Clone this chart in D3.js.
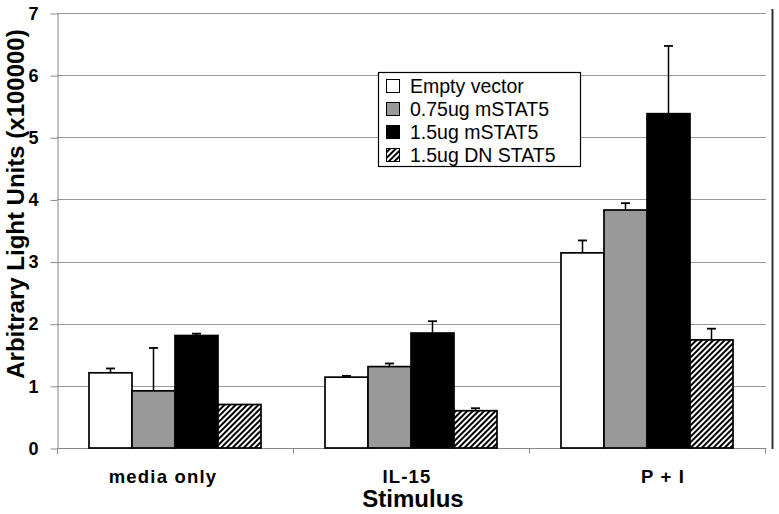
<!DOCTYPE html>
<html>
<head>
<meta charset="utf-8">
<script src="https://cdn.jsdelivr.net/npm/d3@7"></script>
<style>
  html, body { margin: 0; padding: 0; background: #fff; }
  svg { display: block; font-family: "Liberation Sans", Arial, sans-serif; }
</style>
</head>
<body>
<svg id="chart" width="779" height="514"></svg>
<script>
// ---- data ----
const categories = ["media only", "IL-15", "P + I"];
const seriesNames = ["Empty vector", "0.75ug mSTAT5", "1.5ug mSTAT5", "1.5ug DN STAT5"];
const emptyVector = [1.21, 1.14, 3.14];
const mSTAT5_075 = [0.92, 1.31, 3.83];
const mSTAT5_15 = [1.81, 1.85, 5.38];
const dnSTAT5_15 = [0.70, 0.60, 1.74];
const errEmpty = [0.07, 0.02, 0.20];
const errM075 = [0.69, 0.05, 0.11];
const errM15 = [0.03, 0.19, 1.09];
const errDN = [0.00, 0.04, 0.18];
const yTicks = [0, 1, 2, 3, 4, 5, 6, 7];

const seriesValues = [emptyVector, mSTAT5_075, mSTAT5_15, dnSTAT5_15];
const seriesErrors = [errEmpty, errM075, errM15, errDN];
const fills = ["#ffffff", "#999999", "#000000", "url(#hatch)"];

(function () {
const svg = d3.select("#chart");

// hatch pattern
const defs = svg.append("defs");
const pat = defs.append("pattern")
  .attr("id", "hatch")
  .attr("patternUnits", "userSpaceOnUse")
  .attr("width", 4).attr("height", 4)
  .attr("patternTransform", "rotate(45)");
pat.append("rect").attr("width", 4).attr("height", 4).attr("fill", "#fff");
pat.append("line").attr("x1", 1).attr("y1", 0).attr("x2", 1).attr("y2", 4)
  .attr("stroke", "#000").attr("stroke-width", 2);

// scales
const pLeft = 57, pRight = 765, pTop = 13, pBottom = 448;
const y = d3.scaleLinear().domain([0, 7]).range([pBottom, pTop]);
const x0 = d3.scaleBand().domain(categories).range([pLeft, pRight]).padding(0);
const groupW = 172;
const x1 = d3.scaleBand().domain(seriesNames).range([0, groupW]).padding(0);
const groupOffset = (x0.bandwidth() - groupW) / 2;

// gridlines
svg.append("g").selectAll("line").data(yTicks.filter(d => d > 0)).join("line")
  .attr("x1", pLeft).attr("x2", pRight + 1)
  .attr("y1", d => Math.round(y(d)) + 0.5).attr("y2", d => Math.round(y(d)) + 0.5)
  .attr("stroke", "#999").attr("stroke-width", 1);

// y axis
const yAxis = svg.append("g")
  .attr("transform", `translate(${pLeft + 0.5},0.5)`)
  .call(d3.axisLeft(y).tickValues(yTicks).tickFormat(d3.format("d"))
    .tickSize(7).tickPadding(12).tickSizeOuter(0));
yAxis.select(".domain").attr("stroke", "#888");
yAxis.selectAll(".tick line").attr("stroke", "#888");
yAxis.selectAll(".tick text")
  .attr("font-size", 18).attr("font-weight", "bold").attr("fill", "#000")
  .attr("font-family", "Liberation Sans, Arial, sans-serif");
// y axis extension below baseline
svg.append("line").attr("x1", pLeft + 0.5).attr("x2", pLeft + 0.5)
  .attr("y1", pBottom).attr("y2", pBottom + 6).attr("stroke", "#888");

// x axis baseline + ticks
const xAxis = svg.append("g")
  .attr("transform", `translate(0.5,${Math.round(y(0)) + 0.5})`);
xAxis.append("line").attr("x1", pLeft).attr("x2", pRight + 1).attr("y1", 0).attr("y2", 0)
  .attr("stroke", "#888");
const boundaries = categories.map(c => x0(c) + x0.bandwidth());
xAxis.selectAll(".xt").data(boundaries).join("line").attr("class", "xt")
  .attr("x1", d => d).attr("x2", d => d).attr("y1", 0).attr("y2", 5)
  .attr("stroke", "#888");

// bars
const barsG = svg.append("g");
seriesNames.forEach((s, si) => {
  const g = barsG.append("g");
  g.selectAll("rect").data(categories).join("rect")
    .attr("x", c => x0(c) + groupOffset + x1(s))
    .attr("width", x1.bandwidth())
    .attr("y", (c, i) => y(seriesValues[si][i]))
    .attr("height", (c, i) => y(0) - y(seriesValues[si][i]))
    .attr("fill", fills[si])
    .attr("stroke", "#000").attr("stroke-width", 1.7);
});

// error bars (upper only)
seriesNames.forEach((s, si) => {
  const g = barsG.append("g");
  categories.forEach((c, i) => {
    const err = seriesErrors[si][i];
    if (err <= 0) return;
    const cx = x0(c) + groupOffset + x1(s) + x1.bandwidth() / 2;
    const v = seriesValues[si][i];
    g.append("line").attr("x1", cx).attr("x2", cx)
      .attr("y1", y(v)).attr("y2", y(v + err))
      .attr("stroke", "#000").attr("stroke-width", 1.5);
    g.append("line").attr("x1", cx - 4.5).attr("x2", cx + 4.5)
      .attr("y1", y(v + err)).attr("y2", y(v + err))
      .attr("stroke", "#000").attr("stroke-width", 1.8);
  });
});

// category labels (slight nudges as in the original layout)
const labelNudge = [-12, -4, 16];
svg.append("g").selectAll("text").data(categories).join("text")
  .attr("x", (c, i) => x0(c) + x0.bandwidth() / 2 + labelNudge[i])
  .attr("y", 483)
  .attr("text-anchor", "middle")
  .attr("font-size", 18.5).attr("font-weight", "bold")
  .attr("letter-spacing", 1.2)
  .text(c => c);

// axis titles
svg.append("text")
  .attr("x", (pLeft + pRight) / 2 + 2).attr("y", 507)
  .attr("text-anchor", "middle")
  .attr("font-size", 24).attr("font-weight", "bold")
  .text("Stimulus");

svg.append("text")
  .attr("transform", "translate(24,204) rotate(-90)")
  .attr("text-anchor", "middle")
  .attr("font-size", 24).attr("font-weight", "bold")
  .text("Arbitrary Light Units (x100000)");

// right border line
svg.append("line").attr("x1", 772.5).attr("x2", 772.5).attr("y1", 9).attr("y2", 449)
  .attr("stroke", "#333").attr("stroke-width", 2);

// legend
const lg = svg.append("g");
lg.append("rect").attr("x", 378.5).attr("y", 72.5).attr("width", 202).attr("height", 94)
  .attr("fill", "#fff").attr("stroke", "#000").attr("stroke-width", 1.2);
const rowY = d3.scalePoint().domain(seriesNames).range([86, 155]);
seriesNames.forEach((s, si) => {
  const cy = rowY(s);
  lg.append("rect").attr("x", 386.5).attr("y", cy - 6.5).attr("width", 13).attr("height", 13)
    .attr("fill", fills[si]).attr("stroke", "#000").attr("stroke-width", 1);
  lg.append("text").attr("x", 410).attr("y", cy + 6.5)
    .attr("font-size", 19.5).attr("fill", "#000").text(s);
});
})();
</script>
</body>
</html>
